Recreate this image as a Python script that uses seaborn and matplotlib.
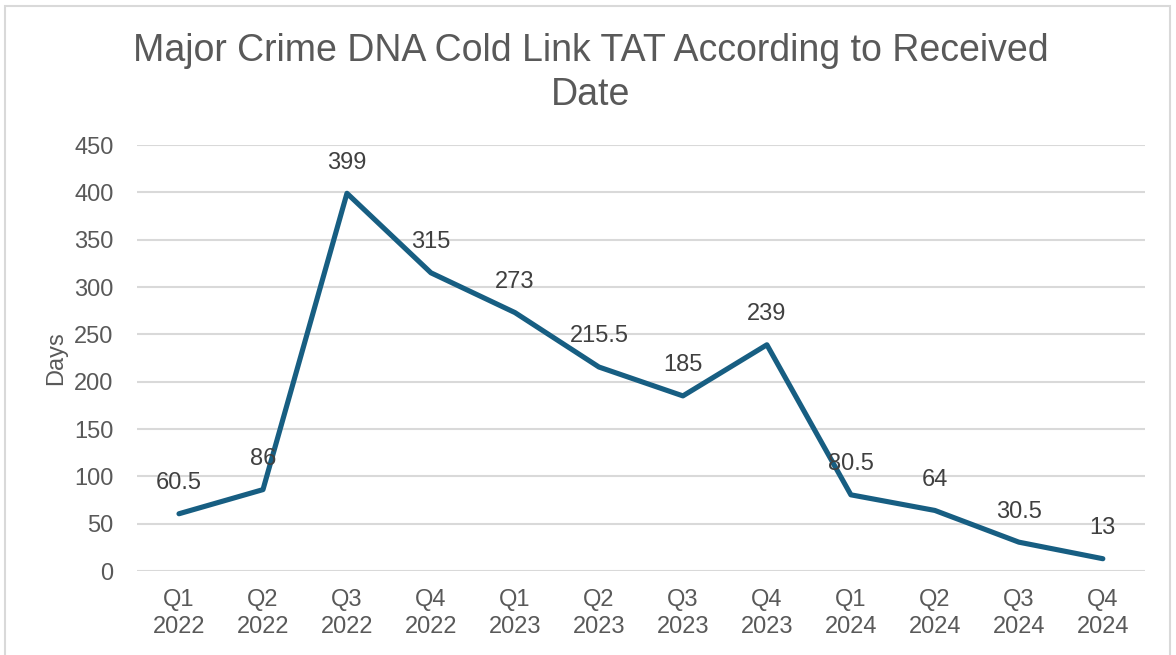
import matplotlib
matplotlib.use("Agg")
import matplotlib.pyplot as plt
from matplotlib.patches import Rectangle
import seaborn as sns
import pandas as pd

quarters = ["Q1\n2022", "Q2\n2022", "Q3\n2022", "Q4\n2022",
            "Q1\n2023", "Q2\n2023", "Q3\n2023", "Q4\n2023",
            "Q1\n2024", "Q2\n2024", "Q3\n2024", "Q4\n2024"]
tat_days = [60.5, 86, 399, 315, 273, 215.5, 185, 239, 80.5, 64, 30.5, 13]
value_labels = ["60.5", "86", "399", "315", "273", "215.5", "185", "239",
                "80.5", "64", "30.5", "13"]

sns.set_theme(style="white")
plt.rcParams["font.family"] = ["Liberation Sans", "DejaVu Sans"]

df = pd.DataFrame({"quarter": quarters, "days": tat_days})
df["pos"] = range(len(df))

fig = plt.figure(figsize=(11.76, 6.55), dpi=100)
ax = fig.add_axes([0.1165, 0.1282, 0.857, 0.6504])

sns.lineplot(data=df, x="pos", y="days", ax=ax, color="#175E82",
             linewidth=3.7, solid_capstyle="round", solid_joinstyle="round")

for x, y, lab in zip(df["pos"], df["days"], value_labels):
    ax.annotate(lab, (x, y), xytext=(0, 22), textcoords="offset points",
                ha="center", va="center", fontsize=17, color="#404040")

ax.set_xlim(-0.5, len(quarters) - 0.5)
ax.set_ylim(0, 450)
ax.set_yticks(range(0, 451, 50))
ax.set_xticks(df["pos"])
ax.set_xticklabels(quarters, linespacing=1.3)
ax.tick_params(axis="both", labelsize=17, labelcolor="#595959", length=0)
ax.tick_params(axis="x", pad=13)
ax.tick_params(axis="y", pad=17)
ax.grid(axis="y", color="#d9d9d9", linewidth=1.5)
ax.set_axisbelow(True)
for s in ax.spines.values():
    s.set_visible(False)

ax.set_xlabel("")
ax.set_ylabel("Days", fontsize=17, color="#595959", labelpad=5)

fig.text(0.502, 0.889, "Major Crime DNA Cold Link TAT According to Received\nDate",
         ha="center", va="center", fontsize=27, color="#595959", linespacing=1.3)

fig.patches.append(Rectangle((0.0043, -0.01), 0.9907, 1.0008,
                             transform=fig.transFigure, fill=False,
                             edgecolor="#d9d9d9", linewidth=1.5))

fig.savefig("out.png", dpi=100, facecolor="white")
